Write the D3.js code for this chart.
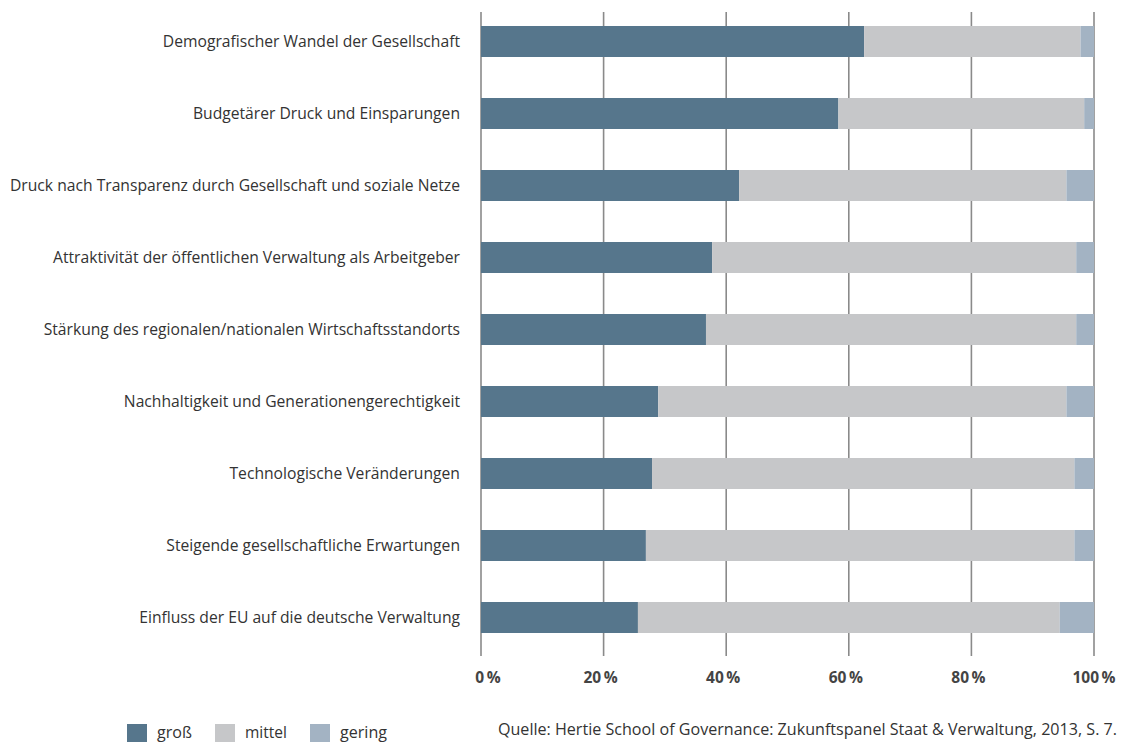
<!DOCTYPE html>
<html><head><meta charset="utf-8">
<script src="https://cdn.jsdelivr.net/npm/d3@7"></script>
<style>
html,body{margin:0;padding:0;background:#fff;}
svg{display:block;font-family:"Open Sans",sans-serif;}
</style></head>
<body>
<svg id="chart" width="1121" height="742"></svg>
<script>
const categories = [
  "Demografischer Wandel der Gesellschaft",
  "Budgetärer Druck und Einsparungen",
  "Druck nach Transparenz durch Gesellschaft und soziale Netze",
  "Attraktivität der öffentlichen Verwaltung als Arbeitgeber",
  "Stärkung des regionalen/nationalen Wirtschaftsstandorts",
  "Nachhaltigkeit und Generationengerechtigkeit",
  "Technologische Veränderungen",
  "Steigende gesellschaftliche Erwartungen",
  "Einfluss der EU auf die deutsche Verwaltung"
];
const gross  = [62.5, 58.3, 42.1, 37.7, 36.7, 28.9, 27.9, 26.9, 25.6];
const mittel = [35.3, 40.1, 53.4, 59.4, 60.4, 66.6, 68.9, 69.9, 68.8];
const gering = [2.2, 1.6, 4.5, 2.9, 2.9, 4.5, 3.2, 3.2, 5.6];
const seriesNames = ["groß", "mittel", "gering"];
const colors = ["#56768c", "#c6c7c9", "#a3b3c3"];
const tickValues = [0, 20, 40, 60, 80, 100];
const tickLabels = ["0\u2009%", "20\u2009%", "40\u2009%", "60\u2009%", "80\u2009%", "100\u2009%"];
const source = "Quelle: Hertie School of Governance: Zukunftspanel Staat & Verwaltung, 2013, S. 7.";

const svg = d3.select("#chart");
const x = d3.scaleLinear().domain([0, 100]).range([481, 1094]);
const y = d3.scaleBand().domain(categories).range([5.5, 653.5]).paddingInner(0.5694).paddingOuter(0.2847);

const rows = categories.map((c, i) => ({cat: c, "groß": gross[i], "mittel": mittel[i], "gering": gering[i]}));
const stack = d3.stack().keys(seriesNames)(rows);

// gridlines
svg.append("g").selectAll("line").data(tickValues).join("line")
  .attr("x1", d => x(d)).attr("x2", d => x(d))
  .attr("y1", 12).attr("y2", 656)
  .attr("stroke", "#8a8a8a").attr("stroke-width", 1.6);

// bars
svg.append("g").selectAll("g").data(stack).join("g")
  .attr("fill", (d, i) => colors[i])
  .selectAll("rect").data(d => d).join("rect")
  .attr("x", d => x(d[0]))
  .attr("width", d => x(d[1]) - x(d[0]))
  .attr("y", d => y(d.data.cat))
  .attr("height", y.bandwidth());

// category labels (slightly condensed to mimic the narrow original face)
const labels = svg.append("g").selectAll("text").data(categories).join("text")
  .attr("x", 460).attr("y", d => y(d) + y.bandwidth() / 2 + 5.8)
  .attr("text-anchor", "end")
  .attr("font-size", 16.5)
  .attr("fill", "#333")
  .text(d => d);
const widths = labels.nodes().map(n => n.getComputedTextLength());
const k = 450 / d3.max(widths);
labels.attr("textLength", (d, i) => widths[i] * k).attr("lengthAdjust", "spacingAndGlyphs");

// tick labels
svg.append("g").selectAll("text").data(tickValues).join("text")
  .attr("x", (d, i) => x(d) + (i === 0 ? 7 : (i === tickValues.length - 1 ? 0 : -3)))
  .attr("y", 683)
  .attr("text-anchor", "middle")
  .attr("font-size", 15.5)
  .attr("font-weight", "bold")
  .attr("fill", "#444")
  .text((d, i) => tickLabels[i]);

// legend
const legendX = [127, 215, 310];
const lg = svg.append("g").selectAll("g").data(seriesNames).join("g")
  .attr("transform", (d, i) => `translate(${legendX[i]},724)`);
lg.append("rect").attr("width", 20).attr("height", 20).attr("fill", (d, i) => colors[i]);
lg.append("text").attr("x", 30).attr("y", 13.5).attr("font-size", 16.5).attr("fill", "#333")
  .attr("textLength", (d) => d === "groß" ? 35 : (d === "mittel" ? 42 : 47)).attr("lengthAdjust", "spacingAndGlyphs")
  .text(d => d);

// source
svg.append("text").attr("x", 1117).attr("y", 735).attr("text-anchor", "end")
  .attr("font-size", 16.1).attr("fill", "#333").text(source);
</script>
</body></html>
